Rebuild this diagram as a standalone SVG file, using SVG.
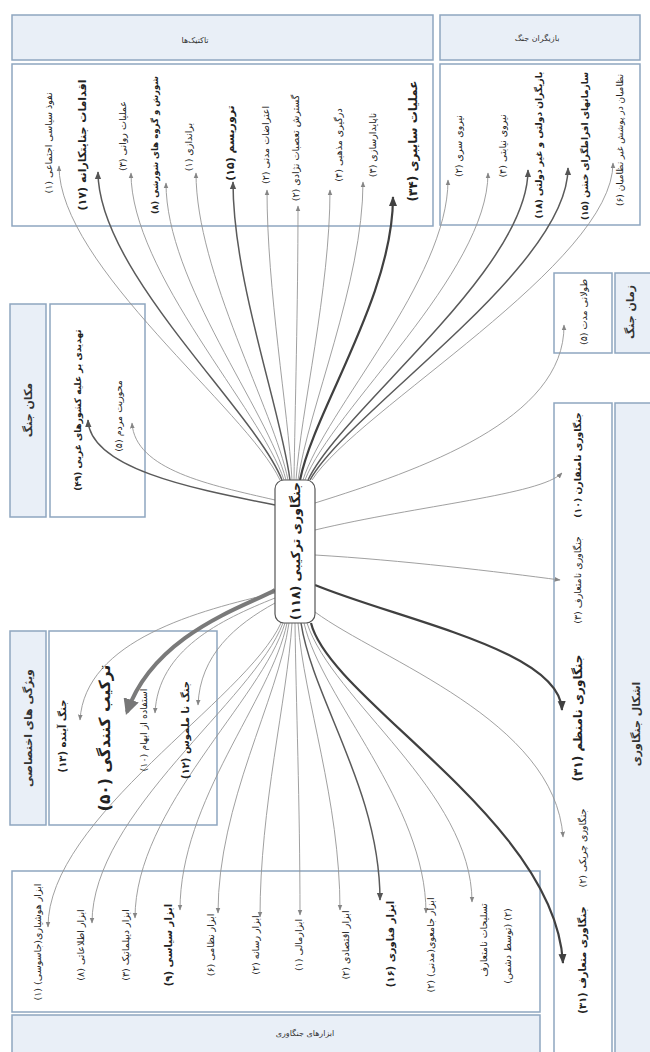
<svg xmlns="http://www.w3.org/2000/svg" width="650" height="1052" viewBox="0 0 650 1052">
<style>
.hdr{fill:#e9eff7;stroke:#8ea6c0;stroke-width:1.5}
.cnt{fill:#ffffff;stroke:#8ea6c0;stroke-width:1.5}
.t{font-family:"DejaVu Sans",sans-serif;fill:#222;text-anchor:middle;dominant-baseline:central}
.s{font-size:9.5px}
.m{font-size:10px;font-weight:bold}
.b{font-size:11px;font-weight:bold}
.h{font-size:11px;font-weight:bold;fill:#333}
.g{font-size:8px;fill:#333}
.c1{fill:none;stroke:#959595;stroke-width:0.9;marker-end:url(#as)}
.c2{fill:none;stroke:#5a5a5a;stroke-width:1.5;marker-end:url(#am)}
.c3{fill:none;stroke:#404040;stroke-width:2.2;marker-end:url(#at)}
.c4{fill:none;stroke:#7a7a7a;stroke-width:4;marker-end:url(#ax)}
</style>
<defs>
<marker id="as" viewBox="0 0 10 10" refX="9" refY="5" markerWidth="6" markerHeight="6" markerUnits="userSpaceOnUse" orient="auto"><path d="M0,1 L10,5 L0,9 z" fill="#858585"/></marker>
<marker id="am" viewBox="0 0 10 10" refX="9" refY="5" markerWidth="8" markerHeight="8" markerUnits="userSpaceOnUse" orient="auto"><path d="M0,1 L10,5 L0,9 z" fill="#555"/></marker>
<marker id="at" viewBox="0 0 10 10" refX="9" refY="5" markerWidth="10" markerHeight="10" markerUnits="userSpaceOnUse" orient="auto"><path d="M0,1 L10,5 L0,9 z" fill="#404040"/></marker>
<marker id="ax" viewBox="0 0 10 10" refX="8" refY="5" markerWidth="16" markerHeight="16" markerUnits="userSpaceOnUse" orient="auto"><path d="M0,0 L10,5 L0,10 z" fill="#777"/></marker>
</defs>
<rect width="650" height="1052" fill="#fff"/>

<!-- containers -->
<g id="box-actions">
<rect class="hdr" x="12" y="15" width="421" height="45"/>
<text class="t g" x="195" y="40">تاکتیک‌ها</text>
<rect class="cnt" x="12" y="64" width="421" height="162"/>
</g>
<g id="box-actors">
<rect class="hdr" x="440" y="15" width="200" height="45"/>
<text class="t g" x="537" y="38">بازیگران جنگ</text>
<rect class="cnt" x="440" y="64" width="200" height="161"/>
</g>
<g id="box-place">
<rect class="hdr" x="10" y="304" width="36" height="213"/>
<text class="t h" transform="translate(28,410) rotate(-90)">مکان جنگ</text>
<rect class="cnt" x="50" y="304" width="95" height="213"/>
</g>
<g id="box-features">
<rect class="hdr" x="10" y="631" width="36" height="194"/>
<text class="t h" transform="translate(28,728) rotate(-90)">ویژگی های اختصاصی</text>
<rect class="cnt" x="49" y="631" width="168" height="194"/>
</g>
<g id="box-time">
<rect class="cnt" x="554" y="273" width="58" height="80"/>
<rect class="hdr" x="615" y="273" width="40" height="80"/>
<text class="t h" transform="translate(630,312) rotate(-90)">زمان جنگ</text>
</g>
<g id="box-forms">
<rect class="cnt" x="554" y="403" width="58" height="660"/>
<rect class="hdr" x="615" y="403" width="45" height="660"/>
<text class="t h" transform="translate(636,724) rotate(-90)">اشکال جنگاوری</text>
</g>
<g id="box-tools">
<rect class="cnt" x="12" y="871" width="528" height="141"/>
<rect class="hdr" x="12" y="1015" width="528" height="50"/>
<text class="t g" x="305" y="1033">ابزارهای جنگاوری</text>
</g>

<!-- connectors -->
<g id="connectors">
<path class="c1" d="M280,480 C247,410 59,266 59,166"/>
<path class="c2" d="M282,480 C254,410 98,272 98,172"/>
<path class="c1" d="M284,480 C261,410 131,273 131,173"/>
<path class="c1" d="M286,480 C268,410 166,283 166,183"/>
<path class="c1" d="M288,480 C274,410 196,273 196,173"/>
<path class="c2" d="M290,480 C281,410 233,282 233,182"/>
<path class="c1" d="M292,480 C288,410 267,290 267,190"/>
<path class="c1" d="M294,480 C295,410 298,306 298,206"/>
<path class="c1" d="M296,480 C301,410 330,290 330,190"/>
<path class="c1" d="M298,480 C308,410 363,282 363,182"/>
<path class="c3" d="M300,480 C314,410 393,297 393,197"/>
<path class="c1" d="M303,480 C325,410 448,280 448,180"/>
<path class="c1" d="M305,480 C332,410 488,273 488,173"/>
<path class="c2" d="M308,480 C341,410 528,270 528,170"/>
<path class="c2" d="M310,480 C349,410 568,268 568,168"/>
<path class="c1" d="M312,480 C357,410 613,263 613,163"/>
<path class="c1" d="M315,503 C420,470 565,420 564,325"/>
<path class="c2" d="M275,505 C200,490 90,470 88,420"/>
<path class="c1" d="M275,500 C210,485 135,470 132,423"/>
<path class="c1" d="M275,593 C200,610 85,640 80,720"/>
<path class="c4" d="M275,590 C250,605 155,632 127,712"/>
<path class="c1" d="M275,598 C220,620 158,650 155,713"/>
<path class="c1" d="M275,603 C235,625 200,655 198,705"/>
<path class="c1" d="M315,530 C420,505 540,495 562,473"/>
<path class="c1" d="M315,555 C400,560 500,572 560,580"/>
<path class="c3" d="M315,585 C400,620 560,650 562,710"/>
<path class="c1" d="M315,612 C380,660 555,720 563,837"/>
<path class="c3" d="M311,623 C330,700 555,820 563,963"/>
<path class="c1" d="M281,623 C246,700 48,817 48,927"/>
<path class="c1" d="M283,623 C254,700 92,813 92,923"/>
<path class="c1" d="M285,623 C262,700 135,808 135,918"/>
<path class="c1" d="M287,623 C271,700 180,800 180,910"/>
<path class="c1" d="M289,623 C278,700 218,803 218,913"/>
<path class="c1" d="M292,623 C287,700 260,807 260,917"/>
<path class="c1" d="M295,623 C296,700 300,805 300,915"/>
<path class="c1" d="M298,623 C304,700 340,800 340,910"/>
<path class="c2" d="M301,623 C313,700 380,790 380,900"/>
<path class="c1" d="M304,623 C322,700 426,803 426,913"/>
<path class="c1" d="M307,623 C332,700 472,792 472,902"/>
</g>

<!-- labels: actions -->
<g id="n-a1"><text class="t s" transform="translate(48,143) rotate(-90)">نفوذ سیاسی اجتماعی (۱)</text></g>
<g id="n-a2"><text class="t b" transform="translate(82,145) rotate(-90)">اقدامات جنایتکارانه (۱۷)</text></g>
<g id="n-a3"><text class="t s" transform="translate(122,136) rotate(-90)">عملیات روانی (۳)</text></g>
<g id="n-a4"><text class="t" style="font-size:8.6px;font-weight:bold" transform="translate(155,145) rotate(-90)">شورش و گروه های شورشی (۸)</text></g>
<g id="n-a5"><text class="t s" transform="translate(188,147) rotate(-90)">براندازی (۱)</text></g>
<g id="n-a6"><text class="t b" transform="translate(230,143) rotate(-90)">تروریسم (۱۵)</text></g>
<g id="n-a7"><text class="t s" transform="translate(265,145) rotate(-90)">اعتراضات مدنی (۲)</text></g>
<g id="n-a8"><text class="t s" transform="translate(295,148) rotate(-90)">گسترش تعصبات نژادی (۲)</text></g>
<g id="n-a9"><text class="t s" transform="translate(338,145) rotate(-90)">درگیری مذهبی (۴)</text></g>
<g id="n-a10"><text class="t s" transform="translate(372,145) rotate(-90)">ناپایدارسازی (۳)</text></g>
<g id="n-a11"><text class="t" style="font-size:12px;font-weight:bold" transform="translate(413,141) rotate(-90)">عملیات سایبری (۳۴)</text></g>
<!-- actors -->
<g id="n-b1"><text class="t s" transform="translate(458,146) rotate(-90)">نیروی سری (۲)</text></g>
<g id="n-b2"><text class="t s" transform="translate(502,146) rotate(-90)">نیروی نیابتی (۴)</text></g>
<g id="n-b3"><text class="t" style="font-size:9.1px;font-weight:bold" transform="translate(539,145) rotate(-90)">بازیگران دولتی و غیر دولتی (۱۸)</text></g>
<g id="n-b4"><text class="t" style="font-size:9px;font-weight:bold" transform="translate(585,146) rotate(-90)">سازمانهای افراطگرای خشن (۱۵)</text></g>
<g id="n-b5"><text class="t" style="font-size:9px" transform="translate(620,140) rotate(-90)">نظامیان در پوشش غیر نظامیان (۶)</text></g>
<!-- place -->
<g id="n-p1"><text class="t" style="font-size:9px;font-weight:bold" transform="translate(78,410) rotate(-90)">تهدیدی بر علیه کشورهای غربی (۴۹)</text></g>
<g id="n-p2"><text class="t s" transform="translate(118,416) rotate(-90)">محوریت مردم (۵)</text></g>
<!-- features -->
<g id="n-f1"><text class="t m" transform="translate(62,736) rotate(-90)">جنگ آینده (۱۳)</text></g>
<g id="n-f2"><text class="t" style="font-size:15.5px;font-weight:bold" transform="translate(105,738) rotate(-90)">ترکیب کنندگی (۵۰)</text></g>
<g id="n-f3"><text class="t s" transform="translate(143,730) rotate(-90)">استفاده از ابهام (۱۰)</text></g>
<g id="n-f4"><text class="t m" transform="translate(185,730) rotate(-90)">جنگ نا ملموس (۱۲)</text></g>
<!-- time -->
<g id="n-t1"><text class="t s" transform="translate(583,312) rotate(-90)">طولانی مدت (۵)</text></g>
<!-- forms -->
<g id="n-w1"><text class="t" style="font-size:9.3px;font-weight:bold" transform="translate(577,465) rotate(-90)">جنگاوری نامتقارن (۱۰)</text></g>
<g id="n-w2"><text class="t s" transform="translate(577,580) rotate(-90)">جنگاوری نامتعارف (۳)</text></g>
<g id="n-w3"><text class="t b" style="font-size:12px" transform="translate(578,718) rotate(-90)">جنگاوری نامنظم (۳۱)</text></g>
<g id="n-w4"><text class="t s" transform="translate(582,848) rotate(-90)">جنگاوری چریکی (۲)</text></g>
<g id="n-w5"><text class="t m" transform="translate(582,960) rotate(-90)">جنگاوری متعارف (۳۱)</text></g>
<!-- tools -->
<g id="n-x1"><text class="t s" transform="translate(37,942) rotate(-90)">ابزار هوشیاری(جاسوسی) (۱)</text></g>
<g id="n-x2"><text class="t s" transform="translate(80,945) rotate(-90)">ابزار اطلاعاتی (۸)</text></g>
<g id="n-x3"><text class="t s" transform="translate(125,945) rotate(-90)">ابزار دیپلماتیک (۳)</text></g>
<g id="n-x4"><text class="t m" transform="translate(168,945) rotate(-90)">ابزار سیاسی (۹)</text></g>
<g id="n-x5"><text class="t s" transform="translate(210,945) rotate(-90)">ابزار نظامی (۶)</text></g>
<g id="n-x6"><text class="t s" transform="translate(255,945) rotate(-90)">ابزار رسانه (۲)</text></g>
<g id="n-x7"><text class="t s" transform="translate(298,945) rotate(-90)">ابزارمالی (۱)</text></g>
<g id="n-x8"><text class="t s" transform="translate(345,945) rotate(-90)">ابزار اقتصادی (۲)</text></g>
<g id="n-x9"><text class="t" style="font-size:10px;font-weight:bold" transform="translate(390,944) rotate(-90)">ابزار فناوری (۱۶)</text></g>
<g id="n-x10"><text class="t s" transform="translate(430,945) rotate(-90)">ابزار جامعوی(مدنی) (۲)</text></g>
<g id="n-x11"><text class="t s" transform="translate(483,940) rotate(-90)">تسلیحات نامتعارف</text><text class="t s" transform="translate(507,946) rotate(-90)">(توسط دشمن) (۲)</text></g>

<!-- center -->
<g id="n-center">
<rect x="275" y="480" width="40" height="143" rx="9" fill="#fff" stroke="#555" stroke-width="1.2"/>
<text class="t" style="font-size:12.5px;font-weight:bold" transform="translate(295,551) rotate(-90)">جنگاوری ترکیبی (۱۱۸)</text>
</g>
</svg>
